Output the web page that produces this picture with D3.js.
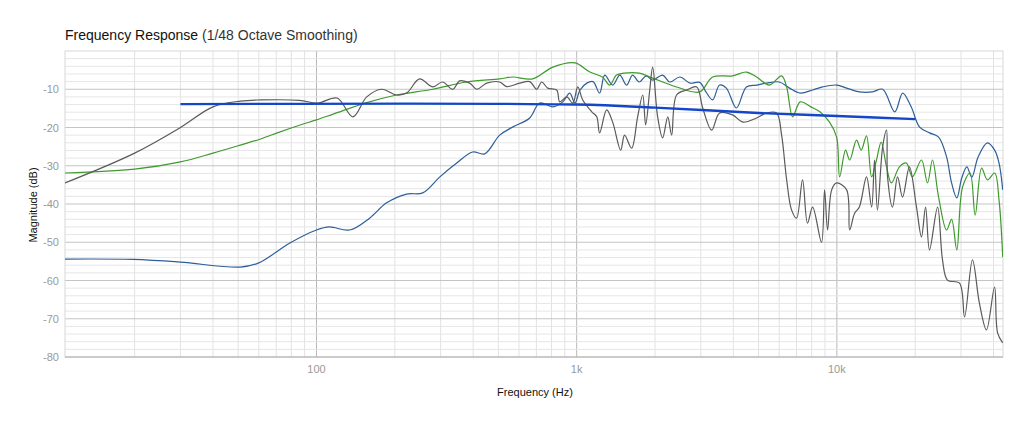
<!DOCTYPE html>
<html><head><meta charset="utf-8">
<script src="https://cdn.jsdelivr.net/npm/d3@7"></script>
<style>body{margin:0;background:#fff;font-family:"Helvetica Neue",Arial,"Liberation Sans",sans-serif}</style>
</head><body><svg id="c" width="1024" height="427"></svg>
<script>
const targetF=[30,1000,2000,5000,10000,20000];
const targetDb=[-13.9,-14,-14.8,-16.2,-17,-17.8];

const greyF=[10.8,20,30,40,51,61,86,101,120,138,156,178,203,222,249,280,305,334,355,388,413,451,506,538,604,660,702,734,774,838,861,916,966,1010,1055,1143,1194,1225,1304,1375,1476,1528,1626,1715,1794,1841,1909,1959,2047,2140,2239,2317,2421,2647,2893,3050,3302,3542,3974,4345,4916,5371,5865,6132,6412,6700,7000,7380,7710,8070,8730,8970,9210,9550,9980,10900,11200,11700,12200,13000,13600,13960,14320,15000,15520,15660,16370,17110,17880,19000,20230,21140,21920,22700,24380,25470,26620,29600,30950,33200,35300,37580,40360,41470,43370];
const greyDb=[-34.5,-26.7,-20,-14.6,-13.1,-12.8,-12.9,-13.6,-12.3,-17.2,-12,-10,-11.5,-11,-7.3,-9.4,-8.1,-10,-7.8,-8.4,-10,-8.4,-8.1,-9.3,-8.4,-8,-10,-8.1,-9.7,-10.2,-13.3,-12,-13.6,-9.4,-12.8,-15.9,-17.2,-21.4,-15.4,-18.6,-25.9,-22,-25.4,-17.2,-11.5,-19.3,-10.2,-4.2,-17.2,-22.7,-17.2,-22,-11.5,-10.2,-9.4,-14.9,-20.7,-16.2,-16.7,-18.6,-17.5,-16.2,-16.2,-22,-33.7,-41.6,-43.7,-33.7,-45,-40.8,-50,-36.3,-46.8,-36.3,-34.5,-36.3,-46.8,-42.4,-40.8,-32.9,-40.8,-28.5,-41.6,-25,-20.7,-32.9,-40.8,-32.9,-38.2,-30.3,-40.8,-48.6,-40.8,-52,-40.8,-54.6,-59.9,-60.7,-69.5,-54.6,-65.9,-72.9,-61.7,-73.7,-76.3];

const greenF=[10.8,20,30,40,51,61,72,86,100,116,156,203,280,378,506,567,677,810,985,1124,1256,1340,1422,1520,1740,1959,2421,2970,3330,3974,4490,4916,5500,6132,6412,6760,7230,7940,8600,9370,9980,10250,10800,11200,11900,12400,13000,13600,14200,14800,15520,16200,17400,18500,19500,21140,22300,23300,24600,26400,27600,28900,30400,32500,34000,36000,37900,40400,42000,43400];
const greenDb=[-31.9,-30.9,-29,-26.7,-24.6,-23,-21.2,-19.4,-18,-16.5,-13.5,-11.5,-10,-8.1,-7.3,-6.8,-7.3,-4.2,-3.1,-5.5,-6.8,-8.9,-6.3,-5.8,-5.8,-7.1,-9.4,-10.7,-6.8,-6.5,-5.5,-6.8,-8.9,-6.5,-9.4,-17.2,-13.3,-14.6,-15.9,-18.6,-22.5,-32.9,-25.9,-28.5,-23.3,-25.9,-22.2,-32.9,-28.5,-23.8,-30.3,-34.5,-30.3,-29.3,-32.9,-28.5,-34.5,-28.5,-38.2,-46.8,-44,-52,-35.6,-31.9,-42.9,-30.6,-33.7,-31.9,-39,-53.9];

const blueF=[10.8,19.7,30,51,60,79,100,112,134,160,186,222,256,298,346,398,443,506,567,660,721,810,885,940,985,1030,1094,1156,1225,1282,1375,1465,1555,1640,1740,1850,1959,2140,2280,2490,2730,2970,3140,3330,3542,3760,4110,4490,4916,5371,6000,6580,7230,8070,8810,9980,10900,12200,13700,15000,16700,17900,19300,20800,22700,24600,26400,27600,28900,30200,31600,33000,34900,37900,40400,42000,43400];
const blueDb=[-54.4,-54.5,-55.2,-56.5,-55.4,-50.2,-46.8,-46,-46.8,-43.7,-39.7,-37.4,-37.1,-32.9,-29.3,-26.4,-26.9,-22,-19.9,-17.5,-13.6,-14.6,-13.3,-11,-13.6,-10.2,-8.4,-8,-11,-6.3,-8.9,-6.3,-8.9,-6.3,-8.1,-6.5,-7.6,-6.3,-8.1,-6.8,-8.4,-8.2,-10.7,-12.8,-8.9,-9.7,-14.9,-9.4,-8.9,-8.4,-8.1,-9.7,-11,-10.2,-9.4,-8.9,-9.7,-10.7,-10.7,-10,-15.9,-11,-14.6,-19.9,-21.4,-22.5,-27.7,-34.5,-38.4,-33.2,-30.3,-33,-27.7,-24,-25.9,-29.3,-36.3];

const yTicks=[-10,-20,-30,-40,-50,-60,-70,-80];
const xTicks=[100,1000,10000];
const xTickLabels=["100","1k","10k"];

const svg=d3.select("#c");
const L=65,R=1003,T=51,B=357;
const x=d3.scaleLog().domain([10.8,43500]).range([L,R]);
const y=d3.scaleLinear().domain([-80,0]).range([B,T]);
const g=svg.append("g");
const minorX=[];
for(let d=10;d<=10000;d*=10)for(let k=1;k<=9;k++){const v=d*k;if(v>10.8&&v<43500)minorX.push(v);}
g.selectAll(".vx").data(minorX).enter().append("line")
 .attr("x1",d=>x(d)).attr("x2",d=>x(d)).attr("y1",T).attr("y2",B)
 .attr("stroke",d=>xTicks.includes(d)?"#b8b8b8":"#e2e2e2").attr("stroke-width",1);
const minorY=d3.range(-78,0,2);
g.selectAll(".hy").data(minorY).enter().append("line")
 .attr("x1",L).attr("x2",R).attr("y1",d=>y(d)).attr("y2",d=>y(d))
 .attr("stroke",d=>d%10===0?"#c4c4c4":"#e6e6e6");
g.append("rect").attr("x",L).attr("y",T).attr("width",R-L).attr("height",B-T).attr("fill","none").attr("stroke","#d8d8d8");
g.append("line").attr("x1",L).attr("x2",R).attr("y1",B).attr("y2",B).attr("stroke","#aaa");
svg.selectAll(".yl").data(yTicks).enter().append("text").attr("x",L-6).attr("y",d=>y(d)+4)
 .attr("text-anchor","end").attr("font-size",11).attr("fill","#999").text(d=>d);
svg.selectAll(".xl").data(xTicks).enter().append("text").attr("x",d=>x(d)).attr("y",B+16)
 .attr("text-anchor","middle").attr("font-size",11).attr("fill","#999").text((d,i)=>xTickLabels[i]);
svg.append("text").attr("x",535).attr("y",396).attr("text-anchor","middle").attr("font-size",11).attr("fill","#111").text("Frequency (Hz)");
svg.append("text").attr("transform","translate(37,205) rotate(-90)").attr("text-anchor","middle").attr("font-size",11).attr("fill","#111").text("Magnitude (dB)");
const t=svg.append("text").attr("x",65).attr("y",40).attr("font-size",14).attr("fill","#111");
t.append("tspan").attr("font-weight",500).text("Frequency Response ");
t.append("tspan").attr("fill","#333").text("(1/48 Octave Smoothing)");

const line=d3.line().x(d=>x(d[0])).y(d=>y(d[1])).curve(d3.curveCatmullRom.alpha(0.5));
svg.append("clipPath").attr("id","cp").append("rect").attr("x",L).attr("y",T).attr("width",R-L).attr("height",B-T);
const pg=svg.append("g").attr("clip-path","url(#cp)");
function draw(F,D,col,w){pg.append("path").datum(F.map((f,i)=>[f,D[i]])).attr("d",line).attr("fill","none").attr("stroke",col).attr("stroke-width",w);}
draw(blueF,blueDb,"#2d5e98",1.2);
draw(greenF,greenDb,"#3f9a2e",1.2);
draw(greyF,greyDb,"#5a5a5a",1.2);
draw(targetF,targetDb,"#1346c8",2.4);
</script></body></html>
